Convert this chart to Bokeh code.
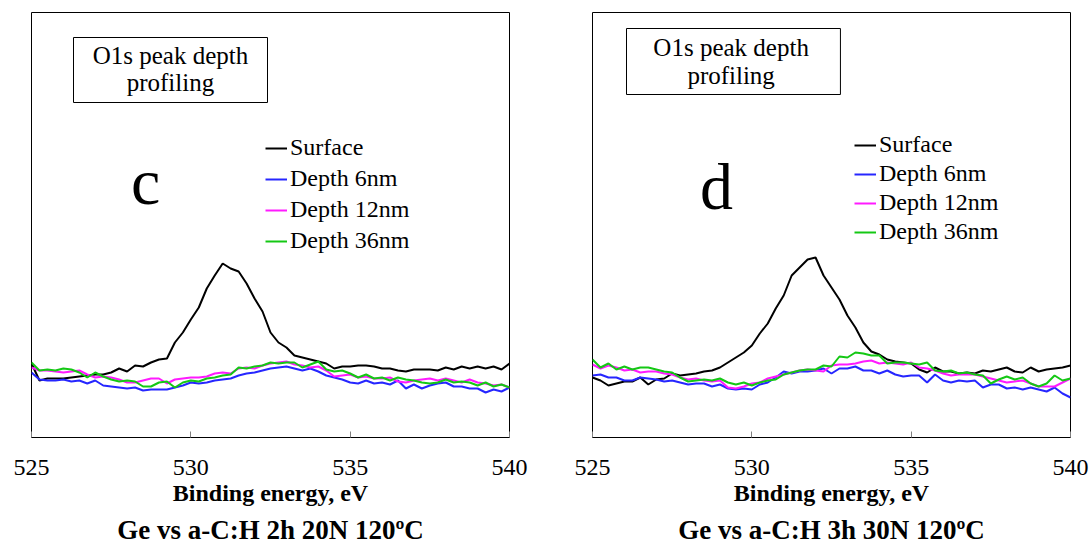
from bokeh.plotting import figure
from bokeh.models import FixedTicker, Legend, LegendItem, Label, BoxAnnotation, Title
from bokeh.layouts import row
from bokeh.embed import file_html
from bokeh.resources import INLINE

energy = [525.0, 525.25, 525.5, 525.75, 526.0, 526.25, 526.5, 526.75, 527.0, 527.25,
          527.5, 527.75, 528.0, 528.25, 528.5, 528.75, 529.0, 529.25, 529.5, 529.75,
          530.0, 530.25, 530.5, 530.75, 531.0, 531.25, 531.5, 531.75, 532.0, 532.25,
          532.5, 532.75, 533.0, 533.25, 533.5, 533.75, 534.0, 534.25, 534.5, 534.75,
          535.0, 535.25, 535.5, 535.75, 536.0, 536.25, 536.5, 536.75, 537.0, 537.25,
          537.5, 537.75, 538.0, 538.25, 538.5, 538.75, 539.0, 539.25, 539.5, 539.75, 540.0]

series_names = ["Surface", "Depth 6nm", "Depth 12nm", "Depth 36nm"]
series_colors = ["#000000", "#2626ff", "#ff1aff", "#14c814"]
tick_values = [525, 530, 535, 540]

# panel c : Ge vs a-C:H 2h 20N 120ºC  (intensity, arbitrary units)
c_surface = [74, 57, 59, 59, 59, 60, 61, 62, 63, 63, 65, 69, 66, 72, 71, 75, 78, 79, 95, 105,
             118, 130, 149, 162, 174, 169, 166, 154, 139, 126, 105, 95, 90, 82, 80, 78, 76, 74, 69, 71,
             71, 72, 72, 71, 69, 69, 67, 66, 68, 68, 68, 67, 70, 68, 71, 69, 71, 69, 71, 68, 74]
c_depth6 = [65, 58, 57, 57, 58, 56, 57, 54, 57, 52, 51, 50, 49, 50, 47, 48, 48, 48, 50, 52,
            55, 54, 55, 57, 58, 59, 62, 64, 65, 67, 69, 70, 71, 69, 67, 69, 66, 62, 60, 58,
            55, 54, 57, 54, 55, 53, 57, 49, 53, 49, 52, 54, 55, 51, 51, 49, 49, 45, 48, 46, 50]
c_depth12 = [70, 67, 67, 66, 65, 66, 67, 63, 60, 61, 60, 58, 55, 55, 57, 59, 59, 54, 58, 59,
             60, 60, 61, 64, 65, 64, 69, 70, 69, 72, 74, 75, 76, 73, 72, 70, 71, 67, 61, 62,
             63, 60, 61, 59, 59, 60, 56, 55, 57, 58, 59, 57, 59, 57, 55, 58, 55, 54, 52, 53, 50]
c_depth36 = [75, 67, 68, 67, 69, 68, 65, 60, 65, 61, 58, 56, 57, 56, 51, 51, 55, 56, 50, 55,
             57, 56, 59, 60, 62, 63, 70, 69, 71, 72, 75, 74, 75, 75, 70, 73, 76, 68, 66, 67,
             64, 60, 63, 59, 60, 57, 60, 58, 57, 55, 54, 55, 58, 55, 56, 55, 52, 55, 51, 53, 50]

# panel d : Ge vs a-C:H 3h 30N 120ºC
d_surface = [60, 57, 52, 54, 56, 56, 60, 53, 58, 59, 64, 62, 63, 64, 66, 67, 70, 75, 80, 85,
             92, 104, 114, 129, 142, 162, 170, 178, 180, 162, 150, 138, 122, 110, 95, 86, 83, 78, 76, 75,
             74, 68, 65, 70, 66, 66, 64, 65, 64, 67, 66, 68, 70, 66, 65, 70, 66, 68, 69, 70, 72]
d_depth6 = [62, 63, 60, 60, 57, 57, 60, 59, 58, 56, 57, 55, 53, 54, 54, 51, 53, 49, 48, 49,
            48, 53, 55, 60, 66, 64, 66, 66, 67, 69, 64, 69, 69, 71, 67, 67, 64, 67, 63, 61,
            62, 62, 55, 63, 57, 55, 57, 56, 57, 50, 53, 53, 49, 50, 48, 50, 48, 46, 50, 44, 40]
d_depth12 = [73, 69, 72, 70, 67, 68, 65, 66, 66, 64, 63, 60, 58, 59, 57, 56, 57, 50, 49, 51,
             54, 55, 59, 61, 63, 65, 67, 68, 67, 66, 72, 73, 73, 74, 76, 77, 74, 75, 74, 73,
             75, 70, 69, 67, 64, 62, 63, 63, 63, 61, 59, 57, 55, 56, 57, 54, 51, 51, 51, 55, 59]
d_depth36 = [78, 70, 74, 68, 71, 68, 70, 70, 68, 66, 65, 60, 56, 57, 58, 57, 59, 55, 53, 55,
             52, 55, 57, 58, 63, 65, 67, 68, 68, 72, 71, 81, 80, 85, 84, 82, 82, 74, 75, 75,
             74, 73, 75, 67, 66, 67, 64, 65, 63, 62, 54, 58, 61, 58, 60, 54, 51, 54, 62, 57, 59]

SERIF = "Liberation Serif"
INK = "#000000"


def make_panel(series, letter, letter_xy, box, box_text_xy, legend_xy, legend_spacing,
               caption, width, border_left, border_right):
    p = figure(width=width, height=549, x_range=(525, 540), y_range=(0, 425),
               output_backend="svg", toolbar_location=None,
               min_border_left=border_left, min_border_right=border_right,
               min_border_top=12, min_border_bottom=112)
    p.background_fill_color = "white"
    p.border_fill_color = "white"
    p.outline_line_color = "black"
    p.outline_line_width = 1
    p.grid.visible = False
    p.yaxis.visible = False

    xa = p.xaxis[0]
    xa.ticker = FixedTicker(ticks=tick_values)
    xa.major_label_text_font = SERIF
    xa.major_label_text_font_size = "24px"
    xa.major_label_text_color = INK
    xa.major_label_standoff = 22
    xa.major_tick_in = 6
    xa.major_tick_out = 0
    xa.major_tick_line_color = "#808080"
    xa.minor_tick_line_color = None
    xa.axis_line_color = "black"
    xa.axis_label = "Binding energy, eV"
    xa.axis_label_text_font = SERIF
    xa.axis_label_text_font_style = "bold"
    xa.axis_label_text_font_size = "24px"
    xa.axis_label_text_color = INK
    xa.axis_label_standoff = 2

    items = []
    for name, col, ys in zip(series_names, series_colors, series):
        r = p.line(energy, ys, line_color=col, line_width=2)
        items.append(LegendItem(label=name, renderers=[r]))

    leg = Legend(items=items, location=legend_xy, orientation="vertical",
                 label_text_font=SERIF, label_text_font_size="24px",
                 label_text_color=INK, glyph_width=22, glyph_height=20,
                 label_standoff=3, spacing=legend_spacing, padding=0, margin=0,
                 border_line_color=None, background_fill_alpha=0)
    p.add_layout(leg, "center")

    (bl, br, bt, bb) = box
    p.add_layout(BoxAnnotation(left=bl, right=br, top=bt, bottom=bb,
                               fill_color="white", fill_alpha=1,
                               line_color="black", line_alpha=1, line_width=1))
    tx, ty1, ty2 = box_text_xy
    for txt, ty in (("O1s peak depth", ty1), ("profiling", ty2)):
        p.add_layout(Label(x=tx, y=ty, text=txt, text_font=SERIF, text_font_size="25px",
                           text_align="center", text_baseline="alphabetic",
                           text_color=INK))

    p.add_layout(Label(x=letter_xy[0], y=letter_xy[1], text=letter, text_font=SERIF,
                       text_font_size="66px", text_align="center",
                       text_baseline="alphabetic", text_color=INK))

    p.add_layout(Title(text=caption, align="center", text_font=SERIF,
                       text_font_style="bold", text_font_size="27px",
                       text_color=INK, standoff=8), "below")
    return p


left = make_panel([c_surface, c_depth6, c_depth12, c_depth36], "c", (528.58, 256),
                  (526.318, 532.406, 400, 335), (529.36, 382, 355),
                  (234, 183), 4, "Ge vs a-C:H 2h 20N 120ºC", 550, 31, 41)
right = make_panel([d_surface, d_depth6, d_depth12, d_depth36], "d", (528.89, 251),
                   (526.067, 532.78, 409, 343), (529.35, 390, 362),
                   (262, 192), 2, "Ge vs a-C:H 3h 30N 120ºC", 541, 42, 21)

layout = row(left, right)
open("out.html", "w").write(file_html(layout, INLINE))
